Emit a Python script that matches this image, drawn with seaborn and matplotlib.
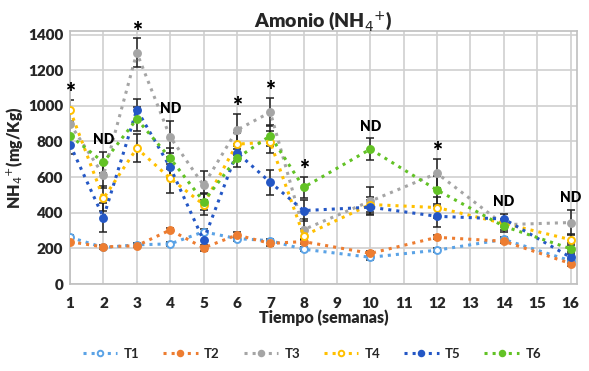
import numpy as np
import pandas as pd
import matplotlib
matplotlib.use("Agg")
import matplotlib.pyplot as plt
import seaborn as sns

# semanas de muestreo
semanas = [1, 2, 3, 4, 5, 6, 7, 8, 10, 12, 14, 16]

# NH4+ (mg/Kg) por tratamiento
t1 = [262, 205, 220, 225, 293, 255, 243, 195, 150, 190, 250, 130]
t2 = [237, 208, 215, 303, 203, 275, 228, 238, 172, 262, 240, 115]
t3 = [898, 610, 1298, 825, 554, 864, 964, 305, 465, 621, 333, 345]
t4 = [975, 480, 762, 593, 446, 785, 796, 271, 446, 429, 340, 249]
t5 = [781, 373, 979, 655, 245, 738, 571, 412, 431, 380, 365, 150]
t6 = [832, 683, 926, 706, 463, 706, 832, 542, 757, 527, 324, 198]

# error estandar
e1 = [12, 10, 10, 12, 15, 12, 12, 12, 15, 12, 12, 12]
e2 = [12, 10, 10, 12, 15, 15, 12, 15, 12, 12, 12, 12]
e3 = [80, 70, 80, 90, 80, 90, 80, 60, 80, 80, 30, 70]
e4 = [60, 70, 80, 80, 60, 60, 60, 40, 40, 60, 20, 30]
e5 = [50, 80, 60, 60, 40, 50, 70, 60, 40, 60, 30, 30]
e6 = [60, 60, 70, 60, 50, 50, 60, 60, 60, 80, 30, 30]

# marcas de significancia
marcas = ["*", "ND", "*", "ND", "", "*", "*", "*", "ND", "*", "ND", "ND"]

tratamientos = ["T1", "T2", "T3", "T4", "T5", "T6"]
valores = [t1, t2, t3, t4, t5, t6]
errores = [e1, e2, e3, e4, e5, e6]
colores = ["#5BA3E6", "#ED7D31", "#A5A5A5", "#FFC000", "#2457C5", "#62C225"]
abiertos = ["T1", "T4"]

df = pd.DataFrame({
    "semana": np.tile(semanas, len(tratamientos)),
    "valor": np.concatenate(valores),
    "error": np.concatenate(errores),
    "trat": np.repeat(tratamientos, len(semanas)),
})

sns.set_style("whitegrid")
plt.rcParams["font.family"] = ["Lato", "DejaVu Sans"]

fig = plt.figure(figsize=(5.89, 3.71), dpi=100)
ax = fig.add_axes([0.119, 0.2345, 0.861, 0.682])

for trat, col in zip(tratamientos, colores):
    sub = df[df["trat"] == trat]
    ax.errorbar(sub["semana"], sub["valor"], yerr=sub["error"], fmt="none",
                ecolor="#222222", elinewidth=1.1, capsize=3, capthick=1.1,
                zorder=2)
    fc = "white" if trat in abiertos else col
    sns.lineplot(data=sub, x="semana", y="valor", ax=ax, color=col,
                 linestyle=":", linewidth=2.2, marker="o", markersize=5,
                 markerfacecolor=fc, markeredgecolor=col, markeredgewidth=1.4,
                 label=trat, zorder=3)

# marcas encima de la barra de error mas alta
tops = df.assign(top=df["valor"] + df["error"]).groupby("semana")["top"].max()
for sem, m in zip(semanas, marcas):
    if not m:
        continue
    fs = 17 if m == "*" else 10
    dy = -3 if m == "*" else 4
    ax.annotate(m, (sem, tops[sem]), xytext=(0, dy), textcoords="offset points",
                ha="center", va="bottom", fontsize=fs, fontweight="heavy",
                color="black")

ax.set_xlim(1, 16.2)
ax.set_ylim(0, 1420)
ax.set_xticks(range(1, 17))
ax.set_yticks(range(0, 1401, 200))
ax.tick_params(axis="both", length=0, labelsize=11)
ax.tick_params(axis="x", pad=9)
ax.tick_params(axis="y", pad=5)
for lab in ax.get_xticklabels() + ax.get_yticklabels():
    lab.set_fontweight("heavy")
ax.grid(True, color="#D0D0D0", linewidth=1.2)
for s in ax.spines.values():
    s.set_color("#BFBFBF")
    s.set_linewidth(1.2)

ax.set_title("Amonio (NH$_4$$^{+}$)", fontsize=14, fontweight="heavy", pad=3)
ax.set_xlabel("Tiempo (semanas)", fontsize=11.5, fontweight="heavy", labelpad=0)
ax.set_ylabel("NH$_4$$^{+}$(mg/Kg)", fontsize=11.5, fontweight="heavy", labelpad=2)

handles, labels = ax.get_legend_handles_labels()
ax.legend(handles, labels, loc="center", bbox_to_anchor=(0.477, -0.275),
          ncol=6, frameon=False, fontsize=9.5, handlelength=2.6,
          columnspacing=1.8, handletextpad=0.5, markerscale=0.8)
for t in ax.get_legend().get_texts():
    t.set_fontweight("bold")

fig.savefig("out.png", dpi=100)
